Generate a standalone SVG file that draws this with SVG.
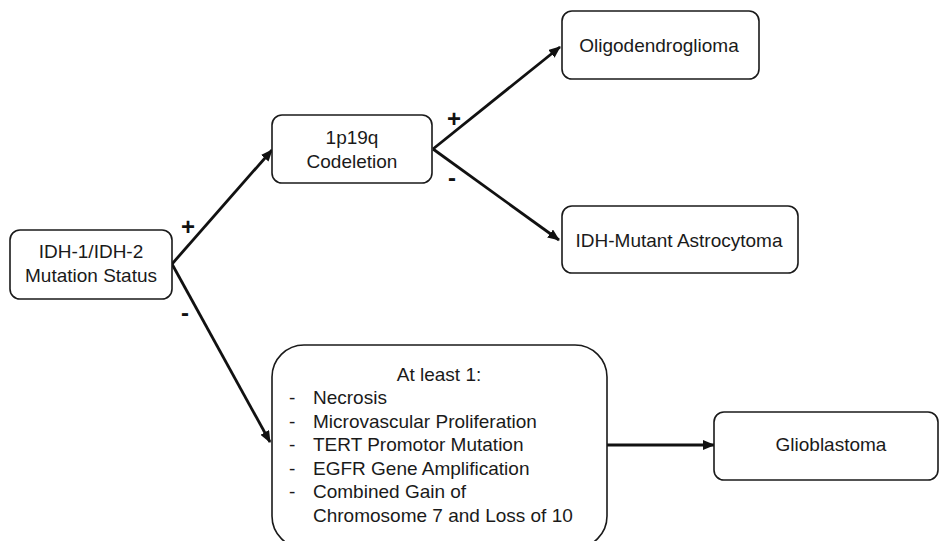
<svg xmlns="http://www.w3.org/2000/svg" width="941" height="541" viewBox="0 0 941 541">
<defs>
<style>
.box{fill:#fff;stroke:#1a1a1a;stroke-width:1.6}
.t{font-family:"Liberation Sans",Arial,sans-serif;font-size:19px;fill:#1a1a1a}
.c{text-anchor:middle}
.lbl{font-family:"Liberation Sans",Arial,sans-serif;font-size:24px;font-weight:bold;fill:#111;text-anchor:middle}
.edge{stroke:#111;stroke-width:2.8;fill:none;marker-end:url(#ah)}
</style>
<marker id="ah" markerUnits="userSpaceOnUse" markerWidth="12" markerHeight="10" refX="11" refY="5" orient="auto">
<path d="M0,0 L12,5 L0,10 Z" fill="#111"/>
</marker>
</defs>
<rect width="941" height="541" fill="#fff"/>
<g id="connectors">
<line class="edge" x1="172" y1="264" x2="272" y2="150"/>
<line class="edge" x1="172" y1="264" x2="270" y2="442"/>
<line class="edge" x1="433" y1="149" x2="560" y2="47"/>
<line class="edge" x1="433" y1="149" x2="559" y2="240"/>
<line class="edge" x1="607" y1="445" x2="714" y2="445"/>
<text class="lbl" x="188" y="235">+</text>
<text class="lbl" x="185" y="321">-</text>
<text class="lbl" x="454" y="127">+</text>
<text class="lbl" x="452" y="186">-</text>
</g>
<g id="idh">
<rect class="box" x="10" y="230" width="162" height="69" rx="10"/>
<text class="t c" x="91" y="258">IDH-1/IDH-2</text>
<text class="t c" x="91" y="282">Mutation Status</text>
</g>
<g id="codeletion">
<rect class="box" x="272" y="115" width="160" height="68" rx="10"/>
<text class="t c" x="352" y="144">1p19q</text>
<text class="t c" x="352" y="168">Codeletion</text>
</g>
<g id="oligo">
<rect class="box" x="562" y="11" width="197" height="68" rx="10"/>
<text class="t c" x="659" y="52">Oligodendroglioma</text>
</g>
<g id="astro">
<rect class="box" x="562" y="206" width="236" height="67" rx="10"/>
<text class="t c" x="679" y="247">IDH-Mutant Astrocytoma</text>
</g>
<g id="criteria">
<rect class="box" x="272" y="345" width="335" height="203" rx="32"/>
<text class="t c" x="439" y="381">At least 1:</text>
<text class="t" x="289" y="404">-</text><text class="t" x="313" y="404">Necrosis</text>
<text class="t" x="289" y="428">-</text><text class="t" x="313" y="428">Microvascular Proliferation</text>
<text class="t" x="289" y="451">-</text><text class="t" x="313" y="451">TERT Promotor Mutation</text>
<text class="t" x="289" y="475">-</text><text class="t" x="313" y="475">EGFR Gene Amplification</text>
<text class="t" x="289" y="498">-</text><text class="t" x="313" y="498">Combined Gain of</text>
<text class="t" x="313" y="522">Chromosome 7 and Loss of 10</text>
</g>
<g id="glio">
<rect class="box" x="714" y="412" width="224" height="68" rx="10"/>
<text class="t c" x="831" y="451">Glioblastoma</text>
</g>
</svg>
